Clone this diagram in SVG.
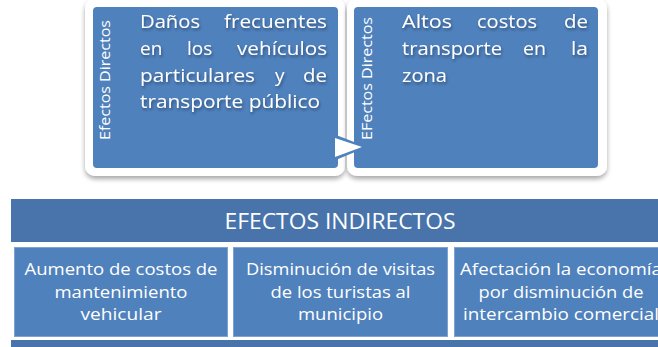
<svg xmlns="http://www.w3.org/2000/svg" width="658" height="347" viewBox="0 0 658 347">
<defs>
<filter id="sh" x="-10%" y="-10%" width="120%" height="125%">
<feGaussianBlur in="SourceAlpha" stdDeviation="2.5"/>
<feOffset dx="0" dy="3" result="b"/>
<feComponentTransfer><feFuncA type="linear" slope="0.35"/></feComponentTransfer>
<feMerge><feMergeNode/><feMergeNode in="SourceGraphic"/></feMerge>
</filter>
<filter id="ts" x="-10%" y="-20%" width="120%" height="150%">
<feGaussianBlur in="SourceAlpha" stdDeviation="1.5"/>
<feOffset dx="1" dy="2" result="b"/>
<feComponentTransfer><feFuncA type="linear" slope="0.4"/></feComponentTransfer>
<feMerge><feMergeNode/><feMergeNode in="SourceGraphic"/></feMerge>
</filter>
</defs>
<style>
text{font-family:"Open Sans","Liberation Sans",Arial,sans-serif;fill:#fff}
.frame{fill:#fff}
.card{fill:#4f81bd}
.big{font-size:19px}
.vert{font-size:14.5px}
.band{fill:#4874ab}
.sub{fill:#4f81bd;stroke:#7ea3d2;stroke-width:1}
.st{font-size:16.5px;text-anchor:middle}
.hd{font-size:21px;text-anchor:middle}
</style>
<rect width="658" height="347" fill="#fff"/>

<g id="node-danos">
<rect class="frame" x="85" y="-2" width="260" height="178" rx="10" filter="url(#sh)"/>
<rect class="card" x="93" y="7" width="245" height="161" rx="4"/>
<text class="vert" transform="translate(110,140) rotate(-90)" textLength="120" lengthAdjust="spacingAndGlyphs">Efectos Directos</text>
<g class="big" filter="url(#ts)">
<text x="140" y="28" textLength="60" lengthAdjust="spacingAndGlyphs">Daños</text>
<text x="224" y="28" textLength="103" lengthAdjust="spacingAndGlyphs">frecuentes</text>
<text x="140" y="55">en</text>
<text x="187" y="55">los</text>
<text x="237" y="55" textLength="90" lengthAdjust="spacingAndGlyphs">vehículos</text>
<text x="140" y="82" textLength="115" lengthAdjust="spacingAndGlyphs">particulares</text>
<text x="275" y="82">y</text>
<text x="303" y="82" textLength="24" lengthAdjust="spacingAndGlyphs">de</text>
<text x="140" y="108" textLength="180" lengthAdjust="spacingAndGlyphs">transporte público</text>
</g>
</g>

<g id="node-altos">
<rect class="frame" x="347" y="-2" width="260" height="178" rx="10" filter="url(#sh)"/>
<rect class="card" x="354" y="7" width="244" height="161" rx="4"/>
<text class="vert" transform="translate(372,140) rotate(-90)" textLength="123" lengthAdjust="spacingAndGlyphs">EFectos Directos</text>
<g class="big" filter="url(#ts)">
<text x="402" y="28" textLength="50" lengthAdjust="spacingAndGlyphs">Altos</text>
<text x="477" y="28" textLength="60" lengthAdjust="spacingAndGlyphs">costos</text>
<text x="564" y="28" textLength="24" lengthAdjust="spacingAndGlyphs">de</text>
<text x="402" y="55" textLength="100" lengthAdjust="spacingAndGlyphs">transporte</text>
<text x="523" y="55" textLength="23" lengthAdjust="spacingAndGlyphs">en</text>
<text x="571" y="55" textLength="17" lengthAdjust="spacingAndGlyphs">la</text>
<text x="402" y="82" textLength="45" lengthAdjust="spacingAndGlyphs">zona</text>
</g>
</g>

<g id="connectors">
<polygon points="331,133 367,147 331,162" fill="#4f81bd"/>
<polygon points="335,138 362,147 335,157" fill="#fff"/>
</g>

<g id="node-indirectos">
<rect class="band" x="11" y="199" width="660" height="43"/>
<text class="hd" x="340" y="229" textLength="231" lengthAdjust="spacingAndGlyphs">EFECTOS INDIRECTOS</text>
<rect class="band" x="11" y="340" width="660" height="10"/>
</g>

<g id="node-aumento">
<rect class="sub" x="14.5" y="247.5" width="213" height="89"/>
<text class="st" x="121" y="275" textLength="193" lengthAdjust="spacingAndGlyphs">Aumento de costos de</text>
<text class="st" x="121" y="298" textLength="133" lengthAdjust="spacingAndGlyphs">mantenimiento</text>
<text class="st" x="121" y="320" textLength="81" lengthAdjust="spacingAndGlyphs">vehicular</text>
</g>

<g id="node-disminucion">
<rect class="sub" x="233.5" y="247.5" width="214" height="89"/>
<text class="st" x="340.5" y="275" textLength="189" lengthAdjust="spacingAndGlyphs">Disminución de visitas</text>
<text class="st" x="340.5" y="298" textLength="140" lengthAdjust="spacingAndGlyphs">de los turistas al</text>
<text class="st" x="340.5" y="320" textLength="85" lengthAdjust="spacingAndGlyphs">municipio</text>
</g>

<g id="node-afectacion">
<rect class="sub" x="454.5" y="247.5" width="214" height="89"/>
<text class="st" x="561" y="275" textLength="202" lengthAdjust="spacingAndGlyphs">Afectación la economía</text>
<text class="st" x="561" y="298" textLength="165" lengthAdjust="spacingAndGlyphs">por disminución de</text>
<text class="st" x="561" y="320" textLength="196" lengthAdjust="spacingAndGlyphs">intercambio comercial</text>
</g>
</svg>
